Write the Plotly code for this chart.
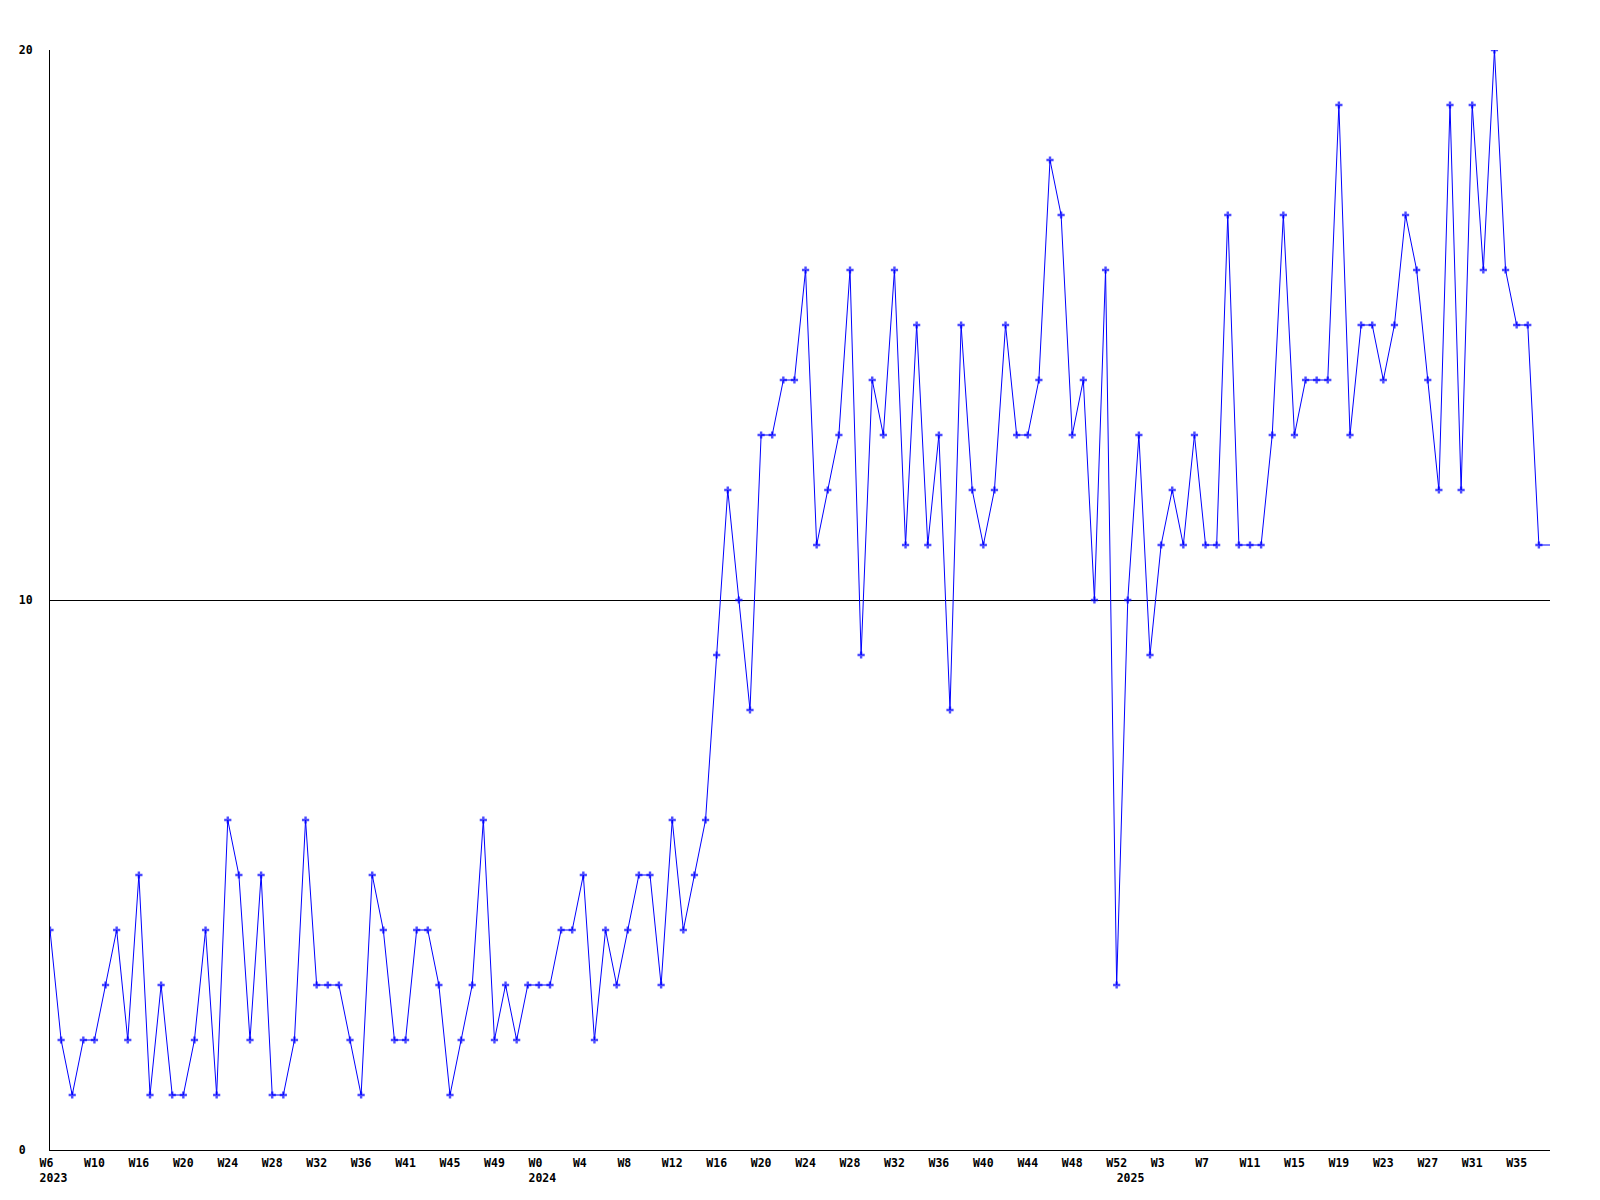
import plotly.graph_objects as go

# Weekly values, one per week starting 2023 W6
values = [
    4, 2, 1, 2, 2, 3, 4, 2, 5, 1, 3, 1, 1, 2, 4, 1, 6, 5, 2, 5,
    1, 1, 2, 6, 3, 3, 3, 2, 1, 5, 4, 2, 2, 4, 4, 3, 1, 2, 3, 6,
    2, 3, 2, 3, 3, 3, 4, 4, 5, 2, 4, 3, 4, 5, 5, 3, 6, 4, 5, 6,
    9, 12, 10, 8, 13, 13, 14, 14, 16, 11, 12, 13, 16, 9, 14, 13, 16, 11, 15, 11,
    13, 8, 15, 12, 11, 12, 15, 13, 13, 14, 18, 17, 13, 14, 10, 16, 3, 10, 13, 9,
    11, 12, 11, 13, 11, 11, 17, 11, 11, 11, 13, 17, 13, 14, 14, 14, 19, 13, 15, 15,
    14, 15, 17, 16, 14, 12, 19, 12, 19, 16, 20, 16, 15, 15, 11, 11,
]
week_index = list(range(len(values)))

# X tick labels, one for every 4th point
week_labels = [
    "W6", "W10", "W16", "W20", "W24", "W28", "W32", "W36", "W41", "W45", "W49", "W0",
    "W4", "W8", "W12", "W16", "W20", "W24", "W28", "W32", "W36", "W40", "W44", "W48",
    "W52", "W3", "W7", "W11", "W15", "W19", "W23", "W27", "W31", "W35",
]
year_labels = {0: "2023", 11: "2024", 24: "2025"}
TICK_EVERY = 4

y_tick_vals = [0, 10, 20]

NB = "\u00a0"  # non-breaking space used to left-align labels in the monospace font
FONT = "DejaVu Sans Mono"


def x_label(i, w):
    line1 = w + NB * (3 - len(w))
    if i not in year_labels:
        return line1
    year = year_labels[i]
    if w == "W52":
        return line1 + "<br>" + NB * 4 + year
    return line1 + "<br>" + NB + year


tick_pos = [i * TICK_EVERY for i in range(len(week_labels))]
tick_text = [x_label(i, w) for i, w in enumerate(week_labels)]
y_tick_text = [str(v) + (NB if v < 10 else "") for v in y_tick_vals]

marker_sizes = [6] * (len(values) - 1) + [0]

fig = go.Figure(
    go.Scatter(
        x=week_index,
        y=values,
        mode="lines+markers",
        line=dict(color="#0000ff", width=1),
        marker=dict(symbol="cross", size=marker_sizes, color="#0000ff", line=dict(width=0)),
        hoverinfo="x+y",
    )
)

# page body has an 8px margin; compensate so the plot area sits at 50..1550 x 50..1150
fig.update_layout(
    width=1592,
    height=1192,
    margin=dict(l=42, r=50, t=42, b=50),
    paper_bgcolor="white",
    plot_bgcolor="white",
    showlegend=False,
    font=dict(family=FONT, size=11.5, color="black"),
)

fig.update_xaxes(
    range=[0, len(values) - 1],
    tickmode="array",
    tickvals=tick_pos,
    ticktext=tick_text,
    showgrid=False,
    zeroline=False,
    showline=True,
    linecolor="black",
    linewidth=1,
    ticks="",
    tickangle=0,
    tickfont=dict(family=FONT, size=11.5, color="black", weight="bold"),
    ticklabelstandoff=2,
)

fig.update_yaxes(
    range=[0, 20],
    tickmode="array",
    tickvals=y_tick_vals,
    ticktext=y_tick_text,
    showgrid=True,
    gridcolor="black",
    gridwidth=1,
    zeroline=False,
    showline=True,
    linecolor="black",
    linewidth=1,
    ticks="",
    tickfont=dict(family=FONT, size=11.5, color="black", weight="bold"),
    ticklabelstandoff=14,
)

fig.write_html("out.html")
